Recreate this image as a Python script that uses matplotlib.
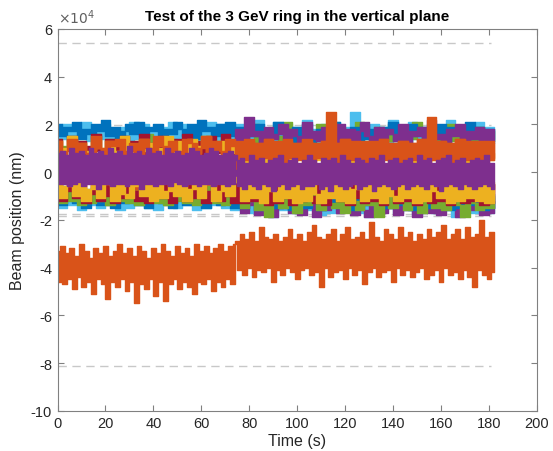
import numpy as np
import matplotlib
matplotlib.use("Agg")
import matplotlib.pyplot as plt
from matplotlib.ticker import FuncFormatter, MultipleLocator

plt.rcParams['font.family'] = ['Liberation Sans', 'DejaVu Sans']

# ---- data (beam position in units of 1e3 nm) ----
T_END = 182.0

# fast BPM record plotted in orange, well below the others (1-s samples)
orange_low = [
    -33, -46, -31, -47, -34, -45, -32, -49, -35, -44,
    -30, -48, -33, -46, -36, -51, -32, -45, -34, -47,
    -31, -53, -35, -46, -33, -48, -30, -45, -34, -50,
    -32, -46, -35, -55, -31, -47, -33, -49, -36, -45,
    -32, -52, -34, -46, -30, -54, -33, -47, -35, -45,
    -31, -49, -34, -46, -32, -48, -35, -51, -30, -46,
    -33, -47, -31, -45, -34, -50, -32, -46, -30, -48,
    -33, -45, -31, -47, -30,
    -29, -41, -26, -43, -28, -40, -25, -44, -29, -41,
    -23, -42, -27, -40, -28, -46, -26, -41, -29, -43,
    -27, -40, -24, -42, -28, -45, -26, -41, -29, -40,
    -25, -43, -22, -42, -27, -48, -28, -40, -26, -44,
    -24, -42, -29, -41, -26, -45, -23, -40, -28, -43,
    -27, -41, -25, -47, -28, -42, -21, -40, -27, -44,
    -29, -42, -24, -41, -26, -46, -28, -40, -23, -43,
    -27, -41, -25, -44, -29, -42, -26, -40, -28, -45,
    -24, -43, -27, -41, -25, -46, -22, -40, -28, -43,
    -26, -42, -24, -45, -28, -41, -23, -44, -27, -48,
    -26, -41, -20, -43, -27, -45, -25, -42,
]

# fast BPM record plotted in purple, centre of the bundle (1-s samples)
purple_main = [
    8, -5, 9, -5, 7, -6, 10, -5, 8, -4,
    9, -6, 7, -5, 10, -5, 8, -7, 9, -5,
    7, -5, 10, -6, 8, -5, 9, -5, 7, -6,
    11, -5, 8, -5, 9, -7, 7, -5, 10, -5,
    8, -6, 9, -5, 7, -5, 10, -6, 8, -4,
    9, -5, 7, -6, 8, -5, 10, -5, 9, -6,
    7, -5, 8, -5, 10, -6, 9, -5, 7, -5,
    8, -6, 9, -5, 7,
    5, -6, 6, -7, 4, -5, 7, -6, 5, -7,
    6, -5, 4, -6, 5, -8, 6, -6, 7, -5,
    4, -7, 5, -6, 6, -5, 4, -7, 5, -6,
    7, -6, 5, -5, 4, -7, 6, -6, 5, -8,
    6, -5, 4, -6, 7, -7, 5, -6, 4, -5,
    6, -7, 5, -6, 4, -5, 6, -8, 5, -6,
    7, -5, 4, -6, 5, -7, 6, -6, 4, -5,
    5, -7, 6, -6, 4, -5, 7, -6, 5, -7,
    6, -5, 4, -6, 5, -8, 6, -6, 7, -5,
    4, -6, 5, -7, 6, -5, 4, -6, 5, -7,
    6, -6, 5, -5, 7, -6, 4, -7,
]

# slower BPM records (2-s samples)
blue_top = [
    20, 15, 19, 17, 21, 14, 18, 16, 20, 17, 22, 15, 19, 14, 17, 20, 16, 21, 15, 19,
    17, 20, 14, 18, 16, 21, 18, 15, 20, 14, 22, 17, 19, 15, 20, 16, 21, 15,
    19, 13, 17, 15, 20, 12, 16, 14, 21, 16, 18, 12, 19, 14, 20, 12, 16, 18, 13, 19,
    21, 13, 17, 15, 19, 12, 20, 14, 18, 13, 19, 16, 21, 13, 18, 12, 20, 15, 19, 13,
    17, 14, 20, 12, 19, 16, 18, 13, 21, 14, 19, 13, 18, 12,
]
lightblue_top = [
    19, 14, 20, 13, 18, 15, 21, 13, 19, 14, 20, 13, 18, 15, 19, 13, 21, 14, 20, 13,
    18, 15, 19, 14, 21, 13, 20, 15, 18, 13, 19, 14, 21, 13, 20, 15, 18, 14,
    20, 13, 19, 14, 22, 12, 18, 13, 21, 12, 20, 14, 19, 12, 22, 13, 18, 12, 20, 14,
    21, 12, 19, 13, 25, 12, 18, 14, 20, 13, 19, 12, 22, 13, 18, 12, 21, 14, 19, 12,
    20, 13, 18, 12, 22, 14, 19, 12, 20, 13, 21, 12, 19, 14,
]
green_top = [
    14, 7, 11, 15, 8, 13, 6, 10, 16, 9, 7, 14, 12, 8, 15, 6, 11, 13, 9, 16,
    7, 12, 15, 8, 14, 10, 6, 13, 16, 8, 11, 15, 7, 13, 9, 16, 8, 12,
    18, 13, 16, 20, 12, 17, 14, 19, 15, 13, 21, 14, 17, 12, 18, 16, 13, 20, 14, 17,
    12, 19, 15, 13, 18, 21, 14, 16, 12, 19, 17, 13, 20, 15, 12, 18, 14, 21, 16, 13,
    19, 12, 17, 15, 20, 13, 18, 14, 16, 12, 19, 14, 17, 13,
]
purple_top = [
    5, -1, 4, 0, 6, -2, 5, 1, 4, -1, 6, 0, 5, -2, 4, 1, 6, -1, 5, 0,
    4, -2, 6, 1, 5, -1, 4, 0, 6, -2, 5, 1, 4, -1, 6, 0, 5, -2,
    18, 13, 23, 15, 17, 12, 19, 14, 16, 20, 13, 18, 15, 12, 21, 14, 17, 13, 19, 16,
    12, 20, 14, 18, 13, 17, 21, 15, 12, 19, 14, 18, 16, 13, 20, 12, 17, 15, 19, 13,
    22, 14, 16, 12, 18, 15, 20, 13, 17, 14, 19, 12, 18, 13,
]
darkred_mid = [
    14, 7, 10, 15, 8, 13, 6, 11, 16, 9, 7, 14, 11, 8, 15, 6, 13, 10, 16, 7,
    12, 8, 15, 6, 11, 14, 9, 16, 7, 13, 10, 6, 15, 8, 12, 16, 7, 11,
    -5, -13, -8, -4, -12, -6, -14, -9, -5, -15, -7, -13, -4, -10, -12, -6, -14, -5, -11, -13,
    -4, -9, -15, -6, -12, -8, -5, -14, -10, -4, -13, -7, -15, -5, -11, -12, -6, -14, -4, -9,
    -13, -5, -15, -8, -11, -4, -14, -7, -12, -6, -13, -10, -5, -15,
]
yellow_up = [
    13, 6, 10, 15, 7, 12, 9, 6, 14, 10, 7, 13, 6, 9, 15, 8, 11, 6, 14, 9,
    12, 7, 10, 15, 6, 13, 9, 7, 14, 8, 11, 15, 6, 10, 13, 7, 12, 8,
    9, 4, 10, 6, 8, 3, 10, 7, 9, 4, 10, 3, 7, 9, 4, 8, 5, 6, 10, 3,
    8, 10, 5, 3, 9, 7, 10, 4, 8, 5, 10, 6, 3, 9, 4, 8, 3, 9, 7, 4,
    10, 5, 9, 3, 8, 4, 9, 3, 7, 10, 4, 9, 5, 8,
]
orange_jump = [
    -4, -13, -8, -5, -12, -3, -14, -9, -5, -13, -4, -14, -7, -5, -12, -10, -3, -13, -5, -8,
    -12, -4, -14, -5, -13, -9, -3, -12, -6, -14, -5, -11, -4, -13, -8, -5, -12, -3,
    12, 5, 13, 4, 12, 6, 14, 5, 12, 4, 13, 6, 12, 5, 14, 4, 12, 6, 13, 5,
    12, 4, 14, 6, 12, 5, 13, 4, 12, 6, 14, 5, 12, 4, 13, 6, 12, 5, 14, 4,
    12, 6, 13, 5, 12, 4, 14, 6, 12, 5, 13, 4, 12, 6,
]
orange_up = [
    13, 6, 9, 14, 5, 12, 8, 7, 15, 10, 6, 13, 11, 14, 5, 9, 12, 7, 14, 10,
    6, 15, 11, 5, 13, 9, 7, 14, 12, 6, 10, 15, 5, 13, 9, 7, 14, 11,
    13, 6, 14, 5, 12, 7, 14, 6, 13, 5, 14, 7, 12, 6, 13, 5, 12, 7, 13, 25,
    12, 6, 14, 5, 13, 7, 12, 6, 13, 5, 14, 7, 12, 6, 13, 5, 12, 7, 14, 6,
    23, 5, 13, 7, 12, 6, 14, 5, 13, 7, 12, 6, 13, 5,
]
lightblue_low = [
    -9, -15, -8, -14, -10, -16, -9, -14, -8, -15, -10, -14, -9, -16, -8, -15, -10, -14, -9, -15,
    -8, -16, -10, -14, -9, -15, -8, -14, -10, -16, -9, -15, -8, -14, -10, -15, -9, -16,
    -10, -16, -9, -17, -11, -15, -10, -19, -9, -16, -11, -17, -10, -15, -9, -16, -11, -18, -10, -17,
    -9, -15, -11, -16, -10, -17, -9, -19, -11, -16, -10, -15, -9, -17, -11, -16, -10, -18, -9, -15,
    -11, -17, -10, -16, -9, -19, -11, -15, -10, -17, -9, -16, -11, -17,
]
purple_low = [
    -3, 1, -4, 0, -2, 2, -3, 1, -4, 0, -2, 1, -3, 2, -4, 0, -2, 1, -3, 0,
    -4, 2, -2, 1, -3, 0, -4, 1, -2, 2, -3, 0, -4, 1, -2, 0, -3, 1,
    -11, -17, -14, -10, -18, -12, -16, -19, -11, -15, -13, -17, -10, -18, -14, -12, -19, -11, -16, -13,
    -10, -17, -15, -12, -18, -11, -16, -19, -13, -10, -17, -14, -11, -18, -12, -16, -10, -19, -14, -11,
    -17, -13, -18, -10, -15, -12, -19, -11, -16, -14, -10, -18, -12, -17,
]
blue_low = [
    -7, -14, -10, -6, -13, -8, -15, -11, -7, -14, -6, -12, -15, -8, -13, -7, -10, -14, -6, -15,
    -9, -7, -13, -8, -15, -6, -11, -14, -7, -13, -8, -15, -10, -6, -14, -7, -12, -15,
    -9, -15, -12, -8, -16, -10, -14, -9, -15, -11, -8, -16, -13, -9, -15, -10, -12, -16, -8, -14,
    -10, -15, -9, -13, -16, -8, -14, -11, -10, -16, -9, -15, -12, -8, -14, -10, -16, -9, -13, -15,
    -8, -14, -11, -10, -16, -9, -15, -12, -8, -14, -10, -16, -9, -15,
]
green_low = [
    -7, -13, -6, -12, -8, -14, -7, -13, -6, -12, -8, -14, -7, -12, -6, -13, -8, -14, -7, -12,
    -6, -13, -8, -14, -7, -12, -6, -13, -8, -14, -7, -12, -6, -13, -8, -14, -7, -12,
    -9, -15, -12, -8, -16, -10, -19, -13, -9, -15, -11, -8, -17, -10, -14, -12, -9, -16, -8, -13,
    -15, -10, -17, -9, -12, -16, -8, -14, -10, -19, -11, -9, -15, -13, -8, -16, -10, -14, -17, -9,
    -12, -15, -8, -16, -11, -10, -14, -19, -9, -13, -16, -8, -15, -10,
]
darkred_low = [
    -4, -12, -8, -3, -11, -5, -13, -9, -4, -12, -3, -10, -13, -5, -11, -4, -8, -12, -3, -13,
    -7, -5, -11, -4, -13, -3, -9, -12, -5, -11, -4, -13, -8, -3, -12, -5, -10, -13,
    -5, -13, -4, -12, -9, -6, -14, -5, -13, -4, -11, -14, -6, -12, -4, -10, -13, -5, -14, -8,
    -4, -12, -6, -14, -5, -11, -13, -4, -12, -6, -14, -9, -5, -13, -4, -12, -6, -14, -10, -5,
    -13, -4, -12, -8, -14, -5, -11, -13, -4, -12, -6, -14, -5, -13,
]
yellow_low = [
    -2, -11, -6, -1, -10, -3, -12, -7, -2, -11, -5, -1, -12, -3, -9, -11, -2, -6, -10, -1,
    -12, -4, -11, -8, -2, -10, -3, -12, -7, -1, -11, -5, -2, -12, -8, -3, -10, -2,
    -4, -12, -3, -11, -5, -13, -4, -8, -12, -3, -11, -5, -13, -4, -12, -3, -9, -13, -5, -11,
    -4, -12, -3, -13, -7, -5, -12, -4, -11, -3, -13, -5, -10, -12, -4, -11, -3, -13, -5, -12,
    -4, -8, -11, -3, -13, -5, -12, -4, -11, -3, -12, -5, -13, -4,
]

# tolerance limits (nm / 1e3)
limit_levels = [54.1, 19.7, -17.7, -18.6, -81.1]
limit_t_end = 181.0

# MATLAB default colour order
C_BLUE, C_ORANGE, C_YELLOW, C_PURPLE = '#0072BD', '#D95319', '#EDB120', '#7E2F8E'
C_GREEN, C_LBLUE, C_DRED = '#77AC30', '#4DBEEE', '#A2142F'

series = [
    (lightblue_top, C_LBLUE), (green_top, C_GREEN), (blue_top, C_BLUE),
    (purple_top, C_PURPLE), (darkred_mid, C_DRED), (yellow_up, C_YELLOW),
    (orange_jump, C_ORANGE), (orange_up, C_ORANGE),
    (lightblue_low, C_LBLUE), (purple_low, C_PURPLE), (blue_low, C_BLUE),
    (green_low, C_GREEN), (darkred_low, C_DRED), (yellow_low, C_YELLOW),
    (orange_low, C_ORANGE), (purple_main, C_PURPLE),
]


def draw_trace(ax, vals, color, z):
    """Fast trace: each sample interval is painted over the span the
    signal sweeps between its two end samples."""
    v = np.asarray(vals, dtype=float) * 1e3
    t = np.linspace(0, T_END, len(v))
    lo = np.minimum(v[:-1], v[1:])
    hi = np.maximum(v[:-1], v[1:])
    lo = np.append(lo, lo[-1])
    hi = np.append(hi, hi[-1])
    ax.fill_between(t, lo, hi, step='post', color=color, lw=1.0,
                    edgecolor=color, zorder=z)


fig = plt.figure(figsize=(5.53, 4.52), dpi=100)
ax = fig.add_axes([0.104, 0.089, 0.867, 0.845])

for lvl in limit_levels:
    ax.plot([0, limit_t_end], [lvl * 1e3, lvl * 1e3], ls=(0, (6, 4)),
            color='#c8c8c8', lw=1.0, zorder=1)

for i, (vals, col) in enumerate(series):
    draw_trace(ax, vals, col, 2 + i * 0.01)

ax.set_xlim(0, 200)
ax.set_ylim(-10e4, 6e4)
ax.xaxis.set_major_locator(MultipleLocator(20))
ax.yaxis.set_major_locator(MultipleLocator(2e4))
ax.yaxis.set_major_formatter(FuncFormatter(lambda v, _: f"{v / 1e4:g}"))

axis_col = '#262626'
for s in ax.spines.values():
    s.set_color('#808080')
    s.set_linewidth(0.8)
ax.tick_params(direction='in', length=4, width=0.8, colors='#808080',
               labelcolor=axis_col, labelsize=10.5, top=True, right=True,
               pad=4)

ax.text(0.0, 1.008, r'$\times10^4$', transform=ax.transAxes, fontsize=10,
        color='#606060', ha='left', va='bottom')
ax.set_title('Test of the 3 GeV ring in the vertical plane', fontsize=11,
             fontweight='bold', color='black', pad=6)
ax.set_xlabel('Time (s)', fontsize=11.5, color=axis_col, labelpad=2)
ax.set_ylabel('Beam position (nm)', fontsize=11.5, color=axis_col, labelpad=4)

fig.savefig('out.png', dpi=100)
